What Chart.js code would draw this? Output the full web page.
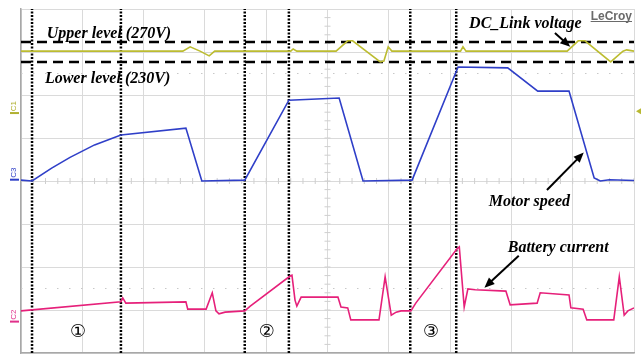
<!DOCTYPE html>
<html>
<head>
<meta charset="utf-8">
<script src="https://cdn.jsdelivr.net/npm/chart.js@4.4.1/dist/chart.umd.min.js"></script>
<style>
  html, body { margin: 0; padding: 0; background: #fff; }
  #wrap { width: 642px; height: 356px; }
</style>
</head>
<body>
<div id="wrap"><canvas id="scope"></canvas></div>
<script>
// time in divisions (10 div), amplitude in divisions (-4..4, centre line = 0)
const dcLinkX = [0, 2.64, 2.76, 2.92, 3.07, 3.16, 4.40, 4.44, 4.50, 5.14, 5.33, 5.41, 5.86, 5.92, 5.99, 6.05, 7.17, 7.21, 7.26, 8.91, 9.09, 9.20, 9.62, 9.82, 9.88, 10];
const dcLinkY = [3.02, 3.02, 3.12, 3.02, 2.91, 3.02, 3.02, 3.07, 3.02, 3.02, 3.26, 3.26, 2.77, 2.79, 3.12, 3.02, 3.02, 3.12, 3.02, 3.02, 3.26, 3.26, 2.77, 3.02, 3.05, 3.02];

const speedX = [0, 0.18, 0.5, 0.8, 1.2, 1.63, 2.69, 2.95, 3.65, 4.37, 5.19, 5.58, 6.38, 7.13, 7.94, 8.43, 8.94, 9.35, 9.45, 9.6, 10];
const speedY = [0.02, 0, 0.3, 0.55, 0.84, 1.07, 1.23, 0, 0.02, 1.88, 1.93, 0, 0.02, 2.65, 2.63, 2.09, 2.09, 0.07, 0, 0.03, 0.01];

const currentX = [0, 1.63, 1.66, 1.71, 2.69, 2.72, 3.02, 3.12, 3.18, 3.23, 3.33, 3.65, 3.74, 4.39, 4.42, 4.47, 4.50, 4.57, 5.17, 5.22, 5.33, 5.38, 5.84, 5.94, 6.04, 6.12, 6.20, 6.36, 6.44, 7.11, 7.15, 7.23, 7.29, 7.41, 7.91, 7.98, 8.42, 8.47, 8.94, 8.97, 9.17, 9.23, 9.67, 9.76, 9.84, 9.90, 10];
const currentY = [-3.02, -2.81, -2.72, -2.84, -2.81, -2.98, -2.98, -2.60, -3.02, -3.09, -3.05, -3.02, -2.91, -2.21, -2.19, -2.77, -2.91, -2.70, -2.70, -2.93, -2.95, -3.23, -3.23, -2.23, -3.12, -3.05, -3.02, -3.02, -2.84, -1.58, -1.53, -2.93, -2.51, -2.53, -2.56, -2.88, -2.84, -2.60, -2.65, -2.95, -2.98, -3.23, -3.23, -2.23, -3.12, -3.02, -2.95];

const cursorX = [0.18, 1.63, 3.65, 4.37, 6.35, 7.10];
const levelY = [3.23, 2.77]; // 270 V, 230 V

const labels = ["Upper level (270V)", "Lower level (230V)", "DC_Link voltage", "Motor speed", "Battery current"];
const phaseLabels = ["\u2460", "\u2461", "\u2462"];

const pts = (xs, ys) => xs.map((x, i) => ({ x: x, y: ys[i] }));

const datasets = [];
levelY.forEach(y => datasets.push({
  data: [{ x: 0, y: y }, { x: 10, y: y }],
  borderColor: "#000", borderWidth: 2.5, borderDash: [10, 6]
}));
cursorX.forEach(x => datasets.push({
  data: [{ x: x, y: -4 }, { x: x, y: 4 }],
  borderColor: "#000", borderWidth: 2.5, borderDash: [2, 1.5]
}));
datasets.unshift(
  { data: pts(dcLinkX, dcLinkY), borderColor: "#bcbc30", borderWidth: 1.6 },
  { data: pts(speedX, speedY), borderColor: "#2f3fc8", borderWidth: 1.6 },
  { data: pts(currentX, currentY), borderColor: "#e6207a", borderWidth: 1.6 }
);

const annotations = [
  { text: labels[0], x: 0.42, y: 3.33 },
  { text: labels[1], x: 0.39, y: 2.27 },
  { text: labels[2], x: 7.31, y: 3.56 },
  { text: labels[3], x: 7.63, y: -0.58 },
  { text: labels[4], x: 7.94, y: -1.65 }
];
const arrows = [
  { from: [8.71, 3.44], to: [8.96, 3.12] },
  { from: [8.58, -0.21], to: [9.18, 0.66] },
  { from: [8.12, -1.74], to: [7.56, -2.48] }
];
const phasePos = [0.93, 4.01, 6.69];

const scopeDecor = {
  id: "scopeDecor",
  beforeDatasetsDraw(chart) {
    const { ctx, scales: { x, y } } = chart;
    ctx.save();
    // faint dotted rows
    ctx.strokeStyle = "#c8c8c8";
    ctx.lineWidth = 1;
    ctx.setLineDash([1.5, 10.5]);
    [2.5, -2.5].forEach(v => {
      ctx.beginPath();
      ctx.moveTo(x.left, y.getPixelForValue(v));
      ctx.lineTo(x.right, y.getPixelForValue(v));
      ctx.stroke();
    });
    ctx.setLineDash([]);
    // crosshair minor ticks
    ctx.strokeStyle = "#cfcfcf";
    const cx = x.getPixelForValue(5), cy = y.getPixelForValue(0);
    for (let t = 0.2; t < 10; t += 0.2) {
      const px = x.getPixelForValue(t);
      ctx.beginPath(); ctx.moveTo(px, cy - 3); ctx.lineTo(px, cy + 3); ctx.stroke();
    }
    for (let t = -3.8; t < 4; t += 0.2) {
      const py = y.getPixelForValue(t);
      ctx.beginPath(); ctx.moveTo(cx - 3, py); ctx.lineTo(cx + 3, py); ctx.stroke();
    }
    ctx.restore();
  },
  afterDatasetsDraw(chart) {
    const { ctx, scales: { x, y } } = chart;
    ctx.save();
    ctx.fillStyle = "#000";
    ctx.font = "italic bold 16px 'Liberation Serif', 'Times New Roman', serif";
    ctx.textBaseline = "alphabetic";
    annotations.forEach(a => ctx.fillText(a.text, x.getPixelForValue(a.x), y.getPixelForValue(a.y)));

    ctx.strokeStyle = "#000";
    ctx.lineWidth = 2;
    arrows.forEach(a => {
      const x1 = x.getPixelForValue(a.from[0]), y1 = y.getPixelForValue(a.from[1]);
      const x2 = x.getPixelForValue(a.to[0]), y2 = y.getPixelForValue(a.to[1]);
      const ang = Math.atan2(y2 - y1, x2 - x1);
      ctx.beginPath(); ctx.moveTo(x1, y1);
      ctx.lineTo(x2 - 6 * Math.cos(ang), y2 - 6 * Math.sin(ang)); ctx.stroke();
      ctx.beginPath();
      ctx.moveTo(x2, y2);
      ctx.lineTo(x2 - 11 * Math.cos(ang - 0.4), y2 - 11 * Math.sin(ang - 0.4));
      ctx.lineTo(x2 - 11 * Math.cos(ang + 0.4), y2 - 11 * Math.sin(ang + 0.4));
      ctx.closePath(); ctx.fill();
    });

    ctx.font = "18px 'Noto Sans', 'DejaVu Sans', sans-serif";
    ctx.textAlign = "center";
    ctx.textBaseline = "middle";
    phaseLabels.forEach((p, i) => ctx.fillText(p, x.getPixelForValue(phasePos[i]), y.getPixelForValue(-3.51)));

    // LeCroy mark
    ctx.font = "bold 12px 'Liberation Sans', Arial, sans-serif";
    ctx.fillStyle = "#6a6a6a";
    ctx.textAlign = "right";
    ctx.textBaseline = "alphabetic";
    ctx.fillText("LeCroy", x.right - 2, y.top + 11);
    const w = ctx.measureText("LeCroy").width;
    ctx.fillRect(x.right - 2 - w, y.top + 12, w, 1);

    // channel markers
    const chan = [
      { t: "C1", v: 1.65, c: "#b0b030" },
      { t: "C3", v: 0.1, c: "#3040c8" },
      { t: "C2", v: -3.2, c: "#e0308a" }
    ];
    ctx.font = "8px 'Liberation Sans', Arial, sans-serif";
    ctx.textAlign = "center";
    ctx.textBaseline = "middle";
    chan.forEach(ch => {
      const py = y.getPixelForValue(ch.v);
      ctx.fillStyle = ch.c;
      ctx.save();
      ctx.translate(14, py - 4);
      ctx.rotate(-Math.PI / 2);
      ctx.fillText(ch.t, 0, 0);
      ctx.restore();
      ctx.fillRect(10, py + 2, 9, 2);
    });
    // trigger marker at right
    const ty = y.getPixelForValue(1.62);
    ctx.fillStyle = "#b8b830";
    ctx.beginPath();
    ctx.moveTo(x.right + 2, ty); ctx.lineTo(x.right + 7, ty - 3); ctx.lineTo(x.right + 7, ty + 3);
    ctx.closePath(); ctx.fill();
    ctx.restore();
  }
};

new Chart(document.getElementById("scope").getContext("2d"), {
  type: "scatter",
  data: { datasets: datasets },
  options: {
    responsive: true,
    maintainAspectRatio: false,
    animation: false,
    showLine: true,
    elements: { point: { radius: 0 }, line: { tension: 0 } },
    layout: { padding: { left: 21, right: 8, top: 9, bottom: 3 } },
    plugins: { legend: { display: false }, tooltip: { enabled: false } },
    scales: {
      x: {
        type: "linear", min: 0, max: 10,
        ticks: { display: false, stepSize: 1 },
        grid: { color: "#dadada", drawTicks: false },
        border: { color: "#a8a8a8", width: 1.5 }
      },
      y: {
        type: "linear", min: -4, max: 4,
        ticks: { display: false, stepSize: 1 },
        grid: { color: "#dadada", drawTicks: false },
        border: { color: "#a8a8a8", width: 1.5 }
      }
    }
  },
  plugins: [scopeDecor]
});
</script>
</body>
</html>
